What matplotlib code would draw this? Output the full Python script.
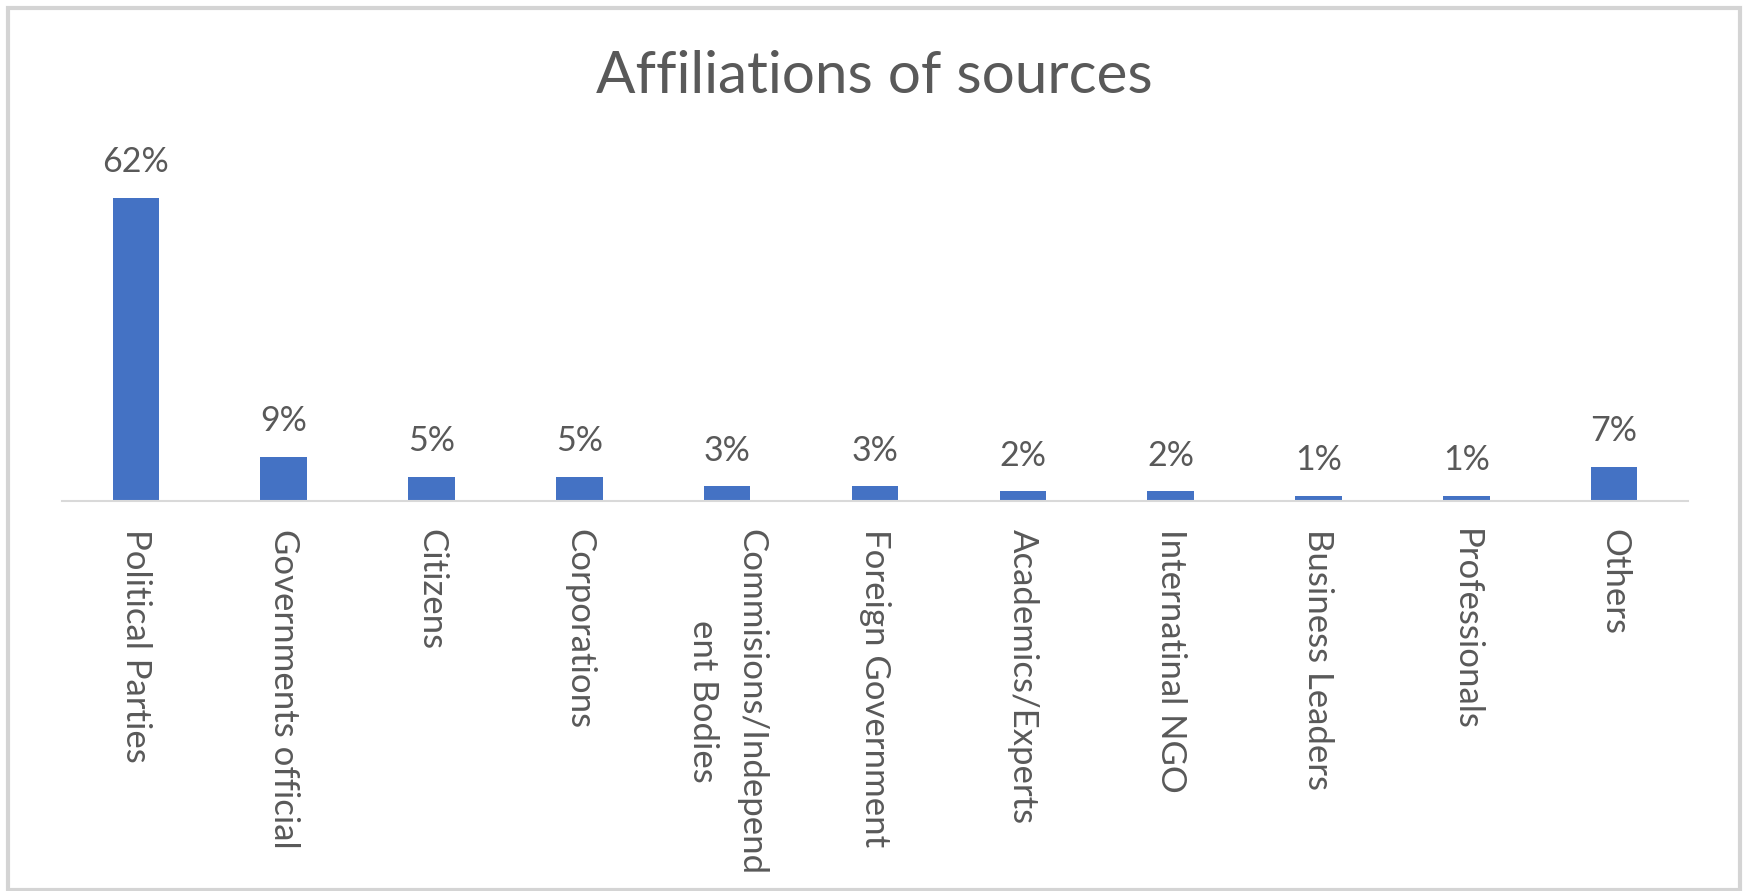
import matplotlib.pyplot as plt
from matplotlib.patches import Rectangle

categories = [
    "Political Parties",
    "Governments official",
    "Citizens",
    "Corporations",
    "Commisions/Independ\nent Bodies",
    "Foreign Government",
    "Academics/Experts",
    "Internatinal NGO",
    "Business Leaders",
    "Professionals",
    "Others",
]
shares = [62, 9, 5, 5, 3, 3, 2, 2, 1, 1, 7]

bar_color = "#4472C4"
text_color = "#595959"
axis_color = "#D9D9D9"

plt.rcParams["font.family"] = ["Lato", "DejaVu Sans"]

W, H = 1748, 891
fig = plt.figure(figsize=(W / 100, H / 100), dpi=100)

# plot area in pixel terms: x 62..1688, baseline at y=501 from top
ax = fig.add_axes([62 / W, 1 - 501 / H, 1626 / W, 342.6 / H])
x = range(len(categories))
bars = ax.bar(x, shares, width=0.315, color=bar_color)
ax.set_xlim(-0.5, len(categories) - 0.5)
ax.set_ylim(0, 70)

for b, v in zip(bars, shares):
    ax.annotate(f"{v}%", (b.get_x() + b.get_width() / 2, v),
                xytext=(0, 18.5), textcoords="offset points",
                ha="center", va="baseline", fontsize=24.5, color=text_color)

ax.set_xticks(list(x))
ax.set_xticklabels(categories, rotation=-90, fontsize=25, color=text_color,
                   multialignment="center", linespacing=1.6)
ax.tick_params(axis="x", length=0, pad=20)
ax.tick_params(axis="y", left=False, labelleft=False)
for side in ["top", "left", "right"]:
    ax.spines[side].set_visible(False)
ax.spines["bottom"].set_color(axis_color)
ax.spines["bottom"].set_linewidth(1.5)

fig.text(0.5, 1 - 93 / H, "Affiliations of sources", ha="center",
         va="baseline", fontsize=42, color=text_color)

# light outer frame around the chart
fig.patches.append(Rectangle((8 / W, 1 - 890 / H), 1732 / W, 882 / H,
                             transform=fig.transFigure, fill=False,
                             edgecolor="#D4D4D4", linewidth=3))

fig.savefig("out.png", dpi=100)
